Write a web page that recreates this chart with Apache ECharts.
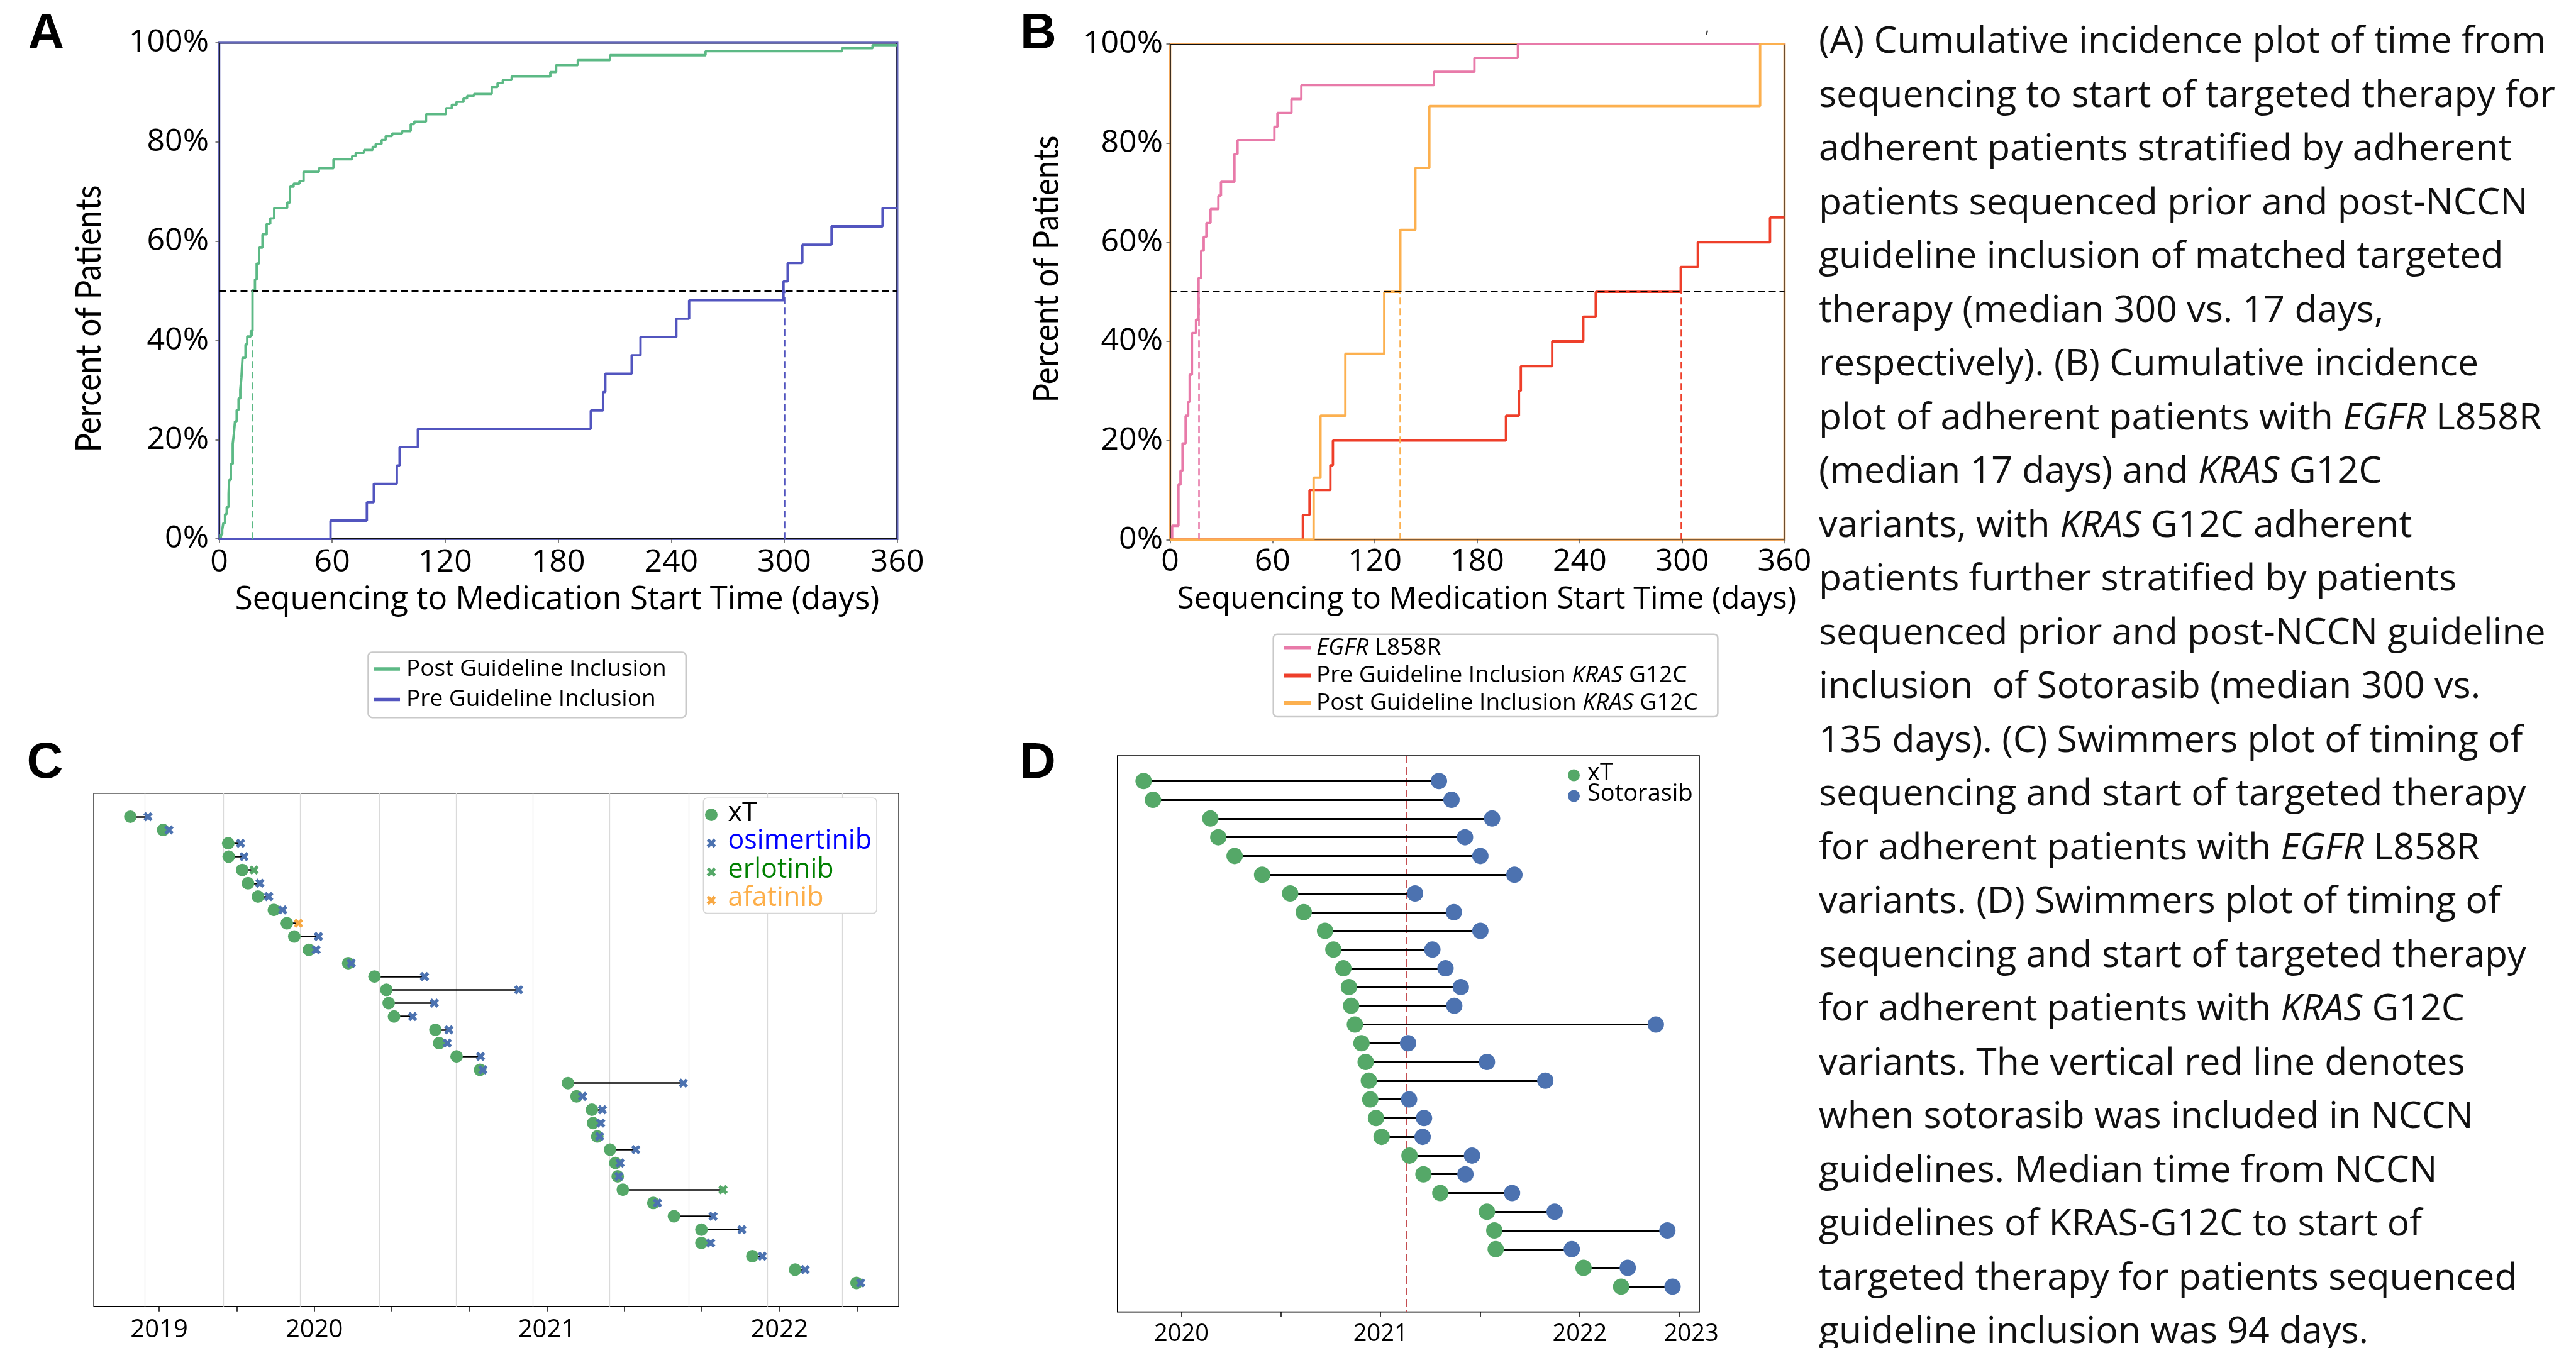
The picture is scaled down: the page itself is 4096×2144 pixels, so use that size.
<!DOCTYPE html>
<html>
<head>
<meta charset="utf-8">
<title>Time to targeted therapy</title>
<script src="https://cdn.jsdelivr.net/npm/echarts@6.0.0/dist/echarts.min.js"></script>
<style>
html,body{margin:0;padding:0;background:#ffffff;}
#chart{width:4096px;height:2144px;}
</style>
</head>
<body>
<div id="chart"></div>
<script>
// ================= DATA =================
// Panel A: cumulative incidence (day of step, cumulative % after step)
const aPostDays = [0.9,1.6,2.2,3.1,4.0,5.0,5.3,6.2,7.2,7.8,8.4,9.3,10.3,11.2,11.8,12.4,14.0,14.9,16.8,17.7,19.0,19.9,21.2,23.0,25.2,27.1,29.2,36.1,37.6,39.5,42.6,44.8,52.9,60.7,70.6,72.5,76.9,81.5,83.1,86.2,88.4,91.8,97.1,101.7,103.6,109.8,120.4,123.5,126.0,129.7,131.6,135.3,144.7,147.8,150.6,155.3,175.8,178.9,190.4,207.5,258.2,330.7,346.9];
const aPostPct  = [0.9,1.8,3.2,5.0,6.4,9.1,11.9,15.1,19.2,21.2,23.7,26.0,28.3,30.1,32.5,36.5,39.2,40.8,41.9,50.2,52.3,55.5,58.7,61.4,63.5,64.6,66.7,67.8,71.0,71.6,72.1,74.0,74.7,76.5,77.2,77.8,78.4,79.0,79.6,80.4,81.2,81.7,82.2,83.6,84.1,85.6,86.8,87.5,88.1,88.8,89.3,89.7,91.1,91.9,92.5,93.2,94.1,95.5,96.5,97.5,98.3,98.9,99.5];
const aPreDays  = [59.1,78.4,82.1,94.3,95.8,105.5,197.3,203.8,205.0,219.0,223.7,242.7,249.5,299.6,301.8,309.6,325.1,352.2];
const aPrePct   = [3.7,7.4,11.1,14.8,18.5,22.2,25.9,29.6,33.3,37.0,40.7,44.4,48.1,51.9,55.6,59.3,63.0,66.7];
const aMedianDays = [17.7, 300];          // post, pre
const aSeriesNames = ['Post Guideline Inclusion', 'Pre Guideline Inclusion'];

// Panel B
const bEgfrDays = [1.2,4.9,6.1,7.3,9.1,10.6,11.5,12.8,15.2,16.7,18.2,19.7,21.3,23.7,28.3,29.8,37.7,39.5,61.1,62.9,71.1,76.9,154.6,178.3,203.8];
const bEgfrPct  = [2.8,11.1,13.9,19.4,25.0,27.8,33.3,41.7,44.4,52.8,58.3,61.1,63.9,66.7,69.4,72.2,77.8,80.6,83.3,86.1,88.9,91.7,94.4,97.2,100];
const bPreDays  = [77.8,81.7,93.9,95.4,196.8,204.4,205.5,223.9,242.1,249.4,299.2,309.2,351.5];
const bPrePct   = [5,10,15,20,25,30,35,40,45,50,55,60,65];
const bPostDays = [84.1,88.1,102.7,125.5,134.9,143.7,151.9,345.7];
const bPostPct  = [12.5,25,37.5,50,62.5,75,87.5,100];
const bMedianDays = [16.7, 299.5, 134.9]; // EGFR, pre KRAS, post KRAS

// Panel C: EGFR L858R swimmers (decimal year)
const cStart = [2019.209,2019.350,2019.630,2019.632,2019.690,2019.715,2019.758,2019.826,2019.882,2019.914,2019.977,2020.146,2020.259,2020.310,2020.320,2020.343,2020.521,2020.537,2020.612,2020.713,2021.091,2021.128,2021.194,2021.199,2021.217,2021.272,2021.295,2021.305,2021.327,2021.458,2021.547,2021.665,2021.665,2021.884,2022.068,2022.332];
const cEnd   = [2019.285,2019.375,2019.683,2019.698,2019.741,2019.766,2019.804,2019.864,2019.932,2020.018,2020.008,2020.159,2020.474,2020.879,2020.516,2020.423,2020.579,2020.572,2020.715,2020.725,2021.587,2021.154,2021.239,2021.232,2021.227,2021.383,2021.315,2021.310,2021.758,2021.476,2021.715,2021.839,2021.705,2021.927,2022.111,2022.350];
const cDrug  = ['osimertinib','osimertinib','osimertinib','osimertinib','erlotinib','osimertinib','osimertinib','osimertinib','afatinib','osimertinib','osimertinib','osimertinib','osimertinib','osimertinib','osimertinib','osimertinib','osimertinib','osimertinib','osimertinib','osimertinib','osimertinib','osimertinib','osimertinib','osimertinib','osimertinib','osimertinib','osimertinib','osimertinib','erlotinib','osimertinib','osimertinib','osimertinib','osimertinib','osimertinib','osimertinib','osimertinib'];
const cDrugNames = ['osimertinib','erlotinib','afatinib'];
const cTickValues  = [2019.333,2019.667,2020,2020.333,2020.667,2021,2021.333,2021.667,2022,2022.333];
const cLabelValues = [2019.333,2020,2021,2022];
const cLabels      = ['2019','2020','2021','2022'];
const cGridValues  = [2019.271,2019.609,2019.944,2020.277,2020.613,2020.944,2021.274,2021.612,2021.947,2022.272];

// Panel D: KRAS G12C swimmers (decimal year)
const dStart = [2019.810,2019.857,2020.145,2020.185,2020.267,2020.405,2020.546,2020.614,2020.721,2020.763,2020.813,2020.841,2020.852,2020.871,2020.904,2020.925,2020.941,2020.948,2020.977,2021.005,2021.145,2021.215,2021.300,2021.534,2021.571,2021.578,2022.019,2022.208];
const dEnd   = [2021.293,2021.356,2021.560,2021.424,2021.501,2021.672,2021.173,2021.368,2021.501,2021.260,2021.326,2021.403,2021.370,2022.382,2021.138,2021.534,2021.827,2021.143,2021.218,2021.211,2021.459,2021.426,2021.660,2021.874,2022.440,2021.960,2022.241,2022.466];
const dGuideline   = [2021.131];
const dTickValues  = [2020,2020.5,2021,2021.5,2022,2022.5];
const dLabelValues = [2020,2021,2022,2022.56];
const dLabels      = ['2020','2021','2022','2023'];

// Caption text (one entry per line, {i|...} = italic)
const captionLines = [
  '(A) Cumulative incidence plot of time from',
  'sequencing to start of targeted therapy for',
  'adherent patients stratified by adherent',
  'patients sequenced prior and post-NCCN',
  'guideline inclusion of matched targeted',
  'therapy (median 300 vs. 17 days,',
  'respectively). (B) Cumulative incidence',
  'plot of adherent patients with {i|EGFR} L858R',
  '(median 17 days) and {i|KRAS} G12C',
  'variants, with {i|KRAS} G12C adherent',
  'patients further stratified by patients',
  'sequenced prior and post-NCCN guideline',
  'inclusion  of Sotorasib (median 300 vs.',
  '135 days). (C) Swimmers plot of timing of',
  'sequencing and start of targeted therapy',
  'for adherent patients with {i|EGFR} L858R',
  'variants. (D) Swimmers plot of timing of',
  'sequencing and start of targeted therapy',
  'for adherent patients with {i|KRAS} G12C',
  'variants. The vertical red line denotes',
  'when sotorasib was included in NCCN',
  'guidelines. Median time from NCCN',
  'guidelines of KRAS-G12C to start of',
  'targeted therapy for patients sequenced',
  'guideline inclusion was 94 days.'
];

// ================= LAYOUT / STYLE =================
const FONT = '"Open Sans", "Noto Sans", sans-serif';
const GA = {left:348.5, top:68, width:1078.2, height:789.2};
const GB = {left:1860.5, top:70, width:977, height:788.3};
const GC = {left:149.2, top:1261.7, width:1280, height:816};
const GD = {left:1776.9, top:1202.1, width:925, height:884.5};

const COL = {
  aPost:'#5cb985', aPre:'#5255bf', aFrame:'#6367b9',
  bEgfr:'#e87aa9', bPre:'#ee3f2a', bPost:'#fcb04f', bFrame:'#f2a85c',
  green:'#55a868', blue:'#4c72b0', orange:'#f7a843', red:'#c44e52'
};
const drugColor = {osimertinib:COL.blue, erlotinib:COL.green, afatinib:COL.orange};
const drugTextColor = {osimertinib:'#0000ff', erlotinib:'#008000', afatinib:'#fdae48'};
const XPTS = [[2.5,0],[5,2.5],[7.5,0],[10,2.5],[7.5,5],[10,7.5],[7.5,10],[5,7.5],[2.5,10],[0,7.5],[2.5,5],[0,2.5]];
const XPATH = 'path://M' + XPTS.map(p => p.join(',')).join(' L') + ' Z';

function stepData(days, pct, xEnd) {
  const d = [[0, 0]];
  days.forEach((x, i) => d.push([x, pct[i]]));
  d.push([xEnd, pct[pct.length - 1]]);
  return d;
}
function labelFor(values, labels) {
  return function (v) {
    for (let i = 0; i < values.length; i++) if (Math.abs(values[i] - v) < 1e-6) return labels[i];
    return '';
  };
}
function gridOpt(g, color, w) {
  return {left:g.left, top:g.top, width:g.width, height:g.height, show:true,
          borderColor:color, borderWidth:w, backgroundColor:'transparent', outerBoundsMode:'none'};
}
function kmX(gi, margin) {
  return {gridIndex:gi, type:'value', min:0, max:360, interval:60,
    axisLine:{show:false, onZero:false}, splitLine:{show:false},
    axisTick:{show:true, length:6, lineStyle:{color:'#555', width:1.5}},
    axisLabel:{fontFamily:FONT, fontSize:50, color:'#000', margin:margin, showMinLabel:true, showMaxLabel:true}};
}
function kmY(gi, margin) {
  return {gridIndex:gi, type:'value', min:0, max:100, interval:20,
    axisLine:{show:false, onZero:false}, splitLine:{show:false},
    axisTick:{show:true, length:6, lineStyle:{color:'#555', width:1.5}},
    axisLabel:{fontFamily:FONT, fontSize:50, color:'#000', margin:margin, formatter:'{value}%', showMinLabel:true, showMaxLabel:true}};
}
const DASH = [11, 6];
function medianLine(day, color) {
  return [{coord:[day, 0], lineStyle:{color:color, width:2.6, type:DASH}}, {coord:[day, 50]}];
}
function kmLine(name, gi, days, pct, color, marks) {
  return {name:name, type:'line', xAxisIndex:gi, yAxisIndex:gi, step:'end',
    data:stepData(days, pct, 360), symbol:'none', showSymbol:false, silent:true, z:3,
    lineStyle:{color:color, width:3.8}, itemStyle:{color:color},
    markLine:{silent:true, symbol:['none','none'], label:{show:false}, z:4, data:marks}};
}
const half = {yAxis:50, lineStyle:{color:'#000', width:2.2, type:DASH}};

// ================= SERIES =================
const series = [
  kmLine(aSeriesNames[0], 0, aPostDays, aPostPct, COL.aPost, [half, medianLine(aMedianDays[0], COL.aPost)]),
  kmLine(aSeriesNames[1], 0, aPreDays, aPrePct, COL.aPre, [medianLine(aMedianDays[1], COL.aPre)]),
  kmLine('EGFR L858R', 1, bEgfrDays, bEgfrPct, COL.bEgfr, [half, medianLine(bMedianDays[0], COL.bEgfr)]),
  kmLine('Pre Guideline Inclusion KRAS G12C', 1, bPreDays, bPrePct, COL.bPre, [medianLine(bMedianDays[1], COL.bPre)]),
  kmLine('Post Guideline Inclusion KRAS G12C', 1, bPostDays, bPostPct, COL.bPost, [medianLine(bMedianDays[2], COL.bPost)]),
  // Panel C
  {type:'lines', coordinateSystem:'cartesian2d', xAxisIndex:2, yAxisIndex:2, silent:true, z:2,
   data:cStart.map((s, i) => ({coords:[[s, i], [cEnd[i], i]]})),
   lineStyle:{color:'#000', width:2.5, opacity:1}},
  {name:'xT', type:'scatter', xAxisIndex:2, yAxisIndex:2, silent:true, z:3,
   data:cStart.map((s, i) => [s, i]), symbol:'circle', symbolSize:20,
   itemStyle:{color:COL.green, opacity:1},
   markLine:{silent:true, z:1, symbol:['none','none'], label:{show:false},
     lineStyle:{color:'#dadada', width:1.3, type:'solid'},
     data:cGridValues.map(v => ({xAxis:v}))}}
].concat(cDrugNames.map(dn => ({
  name:dn, type:'scatter', xAxisIndex:2, yAxisIndex:2, silent:true, z:4,
  data:cEnd.map((e, i) => [e, i, cDrug[i]]).filter(p => p[2] === dn).map(p => [p[0], p[1]]),
  symbol:XPATH, symbolSize:15, itemStyle:{color:drugColor[dn], opacity:1}
}))).concat([
  // Panel D
  {type:'lines', coordinateSystem:'cartesian2d', xAxisIndex:3, yAxisIndex:3, silent:true, z:2,
   data:dStart.map((s, i) => ({coords:[[s, i], [dEnd[i], i]]})),
   lineStyle:{color:'#000', width:3, opacity:1}},
  {name:'xT', type:'scatter', xAxisIndex:3, yAxisIndex:3, silent:true, z:3,
   data:dStart.map((s, i) => [s, i]), symbol:'circle', symbolSize:26,
   itemStyle:{color:COL.green, opacity:1},
   markLine:{silent:true, z:1, symbol:['none','none'], label:{show:false},
     lineStyle:{color:COL.red, width:2, type:[12, 6]},
     data:dGuideline.map(v => ({xAxis:v}))}},
  {name:'Sotorasib', type:'scatter', xAxisIndex:3, yAxisIndex:3, silent:true, z:4,
   data:dEnd.map((e, i) => [e, i]), symbol:'circle', symbolSize:26,
   itemStyle:{color:COL.blue, opacity:1}}
]);

// ================= GRAPHICS (titles, legends, caption) =================
const g = [];
function txt(x, y, text, font, o) {
  o = o || {};
  const st = {text:text, font:font, fill:o.fill || '#000', align:o.align || 'left', verticalAlign:o.va || 'middle'};
  if (o.rich) st.rich = o.rich;
  g.push({type:'text', x:x, y:y, rotation:o.rotation || 0, scaleX:o.scaleX || 1, z:o.z || 10, silent:true, style:st});
}
function xMarker(cx, cy, s, color) {
  g.push({type:'polygon', z:11, silent:true,
    shape:{points:XPTS.map(p => [cx + (p[0] - 5) * s / 10, cy + (p[1] - 5) * s / 10])},
    style:{fill:color}});
}
// thin black inner frames for A and B
[GA, GB].forEach(gr => g.push({type:'rect', z:1, silent:true,
  shape:{x:gr.left + 0.6, y:gr.top + 0.6, width:gr.width - 1.2, height:gr.height - 1.2},
  style:{fill:null, stroke:'#111', lineWidth:1.4}}));
// panel letters
const LF = 'bold 80px "Liberation Sans", Arial, sans-serif';
txt(44.5, 54.6, 'A', LF); txt(1622, 54.6, 'B', LF);
txt(42.5, 1214.6, 'C', LF); txt(1621, 1214.6, 'D', LF);
// axis titles
const YT = '57px Lato, "Open Sans", sans-serif';
txt(142, 507, 'Percent of Patients', YT, {align:'center', rotation:Math.PI / 2, scaleX:0.895});
txt(1665, 428, 'Percent of Patients', YT, {align:'center', rotation:Math.PI / 2, scaleX:0.895});
txt(886, 954.6, 'Sequencing to Medication Start Time (days)', '51px ' + FONT, {align:'center'});
txt(2364, 954, 'Sequencing to Medication Start Time (days)', '49px ' + FONT, {align:'center'});
txt(2712, 60, '\u02bc', '26px ' + FONT, {fill:'#333'});
// legend A
const LEGF = '37px ' + FONT;
g.push({type:'rect', z:10, silent:true, shape:{x:585.5, y:1037.4, width:505.3, height:103.8, r:6},
  style:{fill:'#fff', stroke:'#c9c9c9', lineWidth:2.5}});
[[aSeriesNames[0], COL.aPost, 1064], [aSeriesNames[1], COL.aPre, 1112.5]].forEach(it => {
  g.push({type:'rect', z:11, silent:true, shape:{x:595, y:it[2] - 2.7, width:41, height:5.4}, style:{fill:it[1]}});
  txt(646, it[2], it[0], LEGF, {z:11});
});
// legend B
const richB = {i:{font:'italic 37px ' + FONT}};
g.push({type:'rect', z:10, silent:true, shape:{x:2024.7, y:1008.7, width:706.7, height:131.4, r:6},
  style:{fill:'#fff', stroke:'#c9c9c9', lineWidth:2.5}});
[['{i|EGFR} L858R', COL.bEgfr, 1030.5], ['Pre Guideline Inclusion {i|KRAS} G12C', COL.bPre, 1074.5],
 ['Post Guideline Inclusion {i|KRAS} G12C', COL.bPost, 1118]].forEach(it => {
  g.push({type:'rect', z:11, silent:true, shape:{x:2041, y:it[2] - 2.9, width:43, height:5.8}, style:{fill:it[1]}});
  txt(2093, it[2], it[0], LEGF, {z:11, rich:richB});
});
// legend C
g.push({type:'rect', z:10, silent:true, shape:{x:1118.4, y:1269.3, width:275.6, height:183.3, r:6},
  style:{fill:'#fff', stroke:'#d6d6d6', lineWidth:1.6}});
const CLF = '43px ' + FONT;
g.push({type:'circle', z:11, silent:true, shape:{cx:1131, cy:1296, r:10}, style:{fill:COL.green}});
txt(1157.5, 1294, 'xT', CLF, {z:11});
const cLegRows = [1341, 1387, 1432];
cDrugNames.forEach((dn, k) => {
  xMarker(1131, cLegRows[k], 15, drugColor[dn]);
  txt(1157.5, cLegRows[k] - 3, dn, CLF, {z:11, fill:drugTextColor[dn]});
});
// legend D
const DLF = '38px ' + FONT;
g.push({type:'circle', z:11, silent:true, shape:{cx:2502.5, cy:1233, r:9.5}, style:{fill:COL.green}});
g.push({type:'circle', z:11, silent:true, shape:{cx:2502.5, cy:1266, r:9.5}, style:{fill:COL.blue}});
txt(2524, 1230, 'xT', DLF, {z:11});
txt(2524, 1263.5, 'Sotorasib', DLF, {z:11});
// caption
const CAPF = '59px ' + FONT;
const richCap = {i:{font:'italic 59px ' + FONT}};
captionLines.forEach((line, i) => txt(2892, 67.6 + 85.5 * i, line, CAPF, {fill:'#111', rich:richCap}));

// ================= OPTION =================
const option = {
  animation:false,
  backgroundColor:'#ffffff',
  tooltip:{show:false},
  grid:[gridOpt(GA, COL.aFrame, 3.6), gridOpt(GB, COL.bFrame, 3.6), gridOpt(GC, '#000', 1.6), gridOpt(GD, '#000', 1.8)],
  xAxis:[
    kmX(0, 13), kmX(1, 10.5),
    {gridIndex:2, type:'value', min:2019.052, max:2022.514, axisLine:{show:false, onZero:false}, splitLine:{show:false},
     axisTick:{show:true, customValues:cTickValues, length:8, lineStyle:{color:'#000', width:1.5}},
     axisLabel:{customValues:cLabelValues, formatter:labelFor(cLabelValues, cLabels), fontFamily:FONT, fontSize:40, color:'#000', margin:18}},
    {gridIndex:3, type:'value', min:2019.679, max:2022.600, axisLine:{show:false, onZero:false}, splitLine:{show:false},
     axisTick:{show:true, customValues:dTickValues, length:8, lineStyle:{color:'#000', width:1.5}},
     axisLabel:{customValues:dLabelValues, formatter:labelFor(dLabelValues, dLabels), fontFamily:FONT, fontSize:38, color:'#000', margin:17}}
  ],
  yAxis:[
    kmY(0, 16.5), kmY(1, 11.5),
    {gridIndex:2, type:'value', inverse:true, min:-1.756, max:36.756, show:false},
    {gridIndex:3, type:'value', inverse:true, min:-1.35, max:28.35, show:false}
  ],
  series:series,
  graphic:{elements:g}
};
const chart = echarts.init(document.getElementById('chart'), null, {renderer:'canvas', width:4096, height:2144});
chart.setOption(option);
</script>
</body>
</html>
